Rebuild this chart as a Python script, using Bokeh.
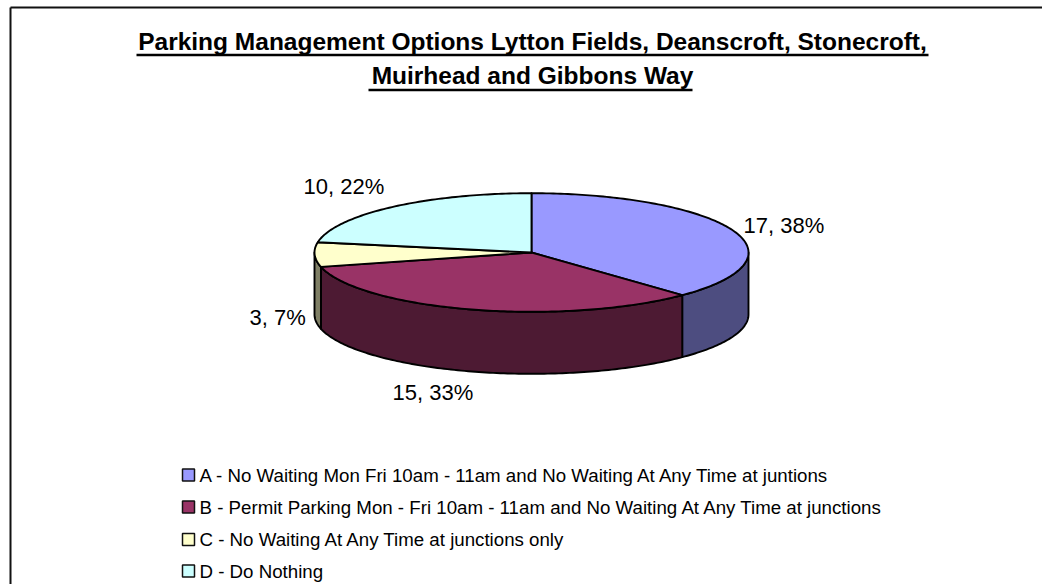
import numpy as np
from bokeh.plotting import figure
from bokeh.models import Range1d
from bokeh.core.properties import value
from bokeh.embed import file_html
from bokeh.resources import INLINE

title_lines = ["Parking Management Options Lytton Fields, Deanscroft, Stonecroft,",
               "Muirhead and Gibbons Way"]
categories = ["A - No Waiting Mon Fri 10am - 11am and No Waiting At Any Time at juntions",
              "B - Permit Parking Mon - Fri 10am - 11am and No Waiting At Any Time at junctions",
              "C - No Waiting At Any Time at junctions only",
              "D - Do Nothing"]
values = [17, 15, 3, 10]
top_colors = ["#9999FF", "#993366", "#FFFFCC", "#CCFFFF"]
side_colors = ["#4D4D80", "#4D1A33", "#808066", "#668080"]

# layout, in page pixels
CX, CY, RX, RY, DEPTH = 531.0, 252.0, 217.0, 59.3, 62.0
label_pos = [(743, 225), (392, 392), (249, 317), (303, 186)]
legend_y = [474.5, 506.5, 539, 570.5]
FONT = value("Liberation Sans")

p = figure(width=1042, height=584, output_backend="svg", toolbar_location=None,
           x_range=Range1d(0, 1042), y_range=Range1d(584, 0),
           min_border=0, x_axis_type=None, y_axis_type=None,
           background_fill_color="white", border_fill_color="white")
p.outline_line_color = None
p.grid.visible = False

# frame
p.segment([10, 10], [7, 7], [1042, 10], [7, 584], line_color="#111111", line_width=2)

# title
title_y = [41, 75]
under_y = [54.5, 89.5]
for line, b, u, (x0, x1) in zip(title_lines, title_y, under_y, [(136, 928), (368, 692)]):
    p.text([532], [b], text=[line], text_font=FONT, text_font_style="bold",
           text_font_size="24.5px", text_align="center", text_baseline="alphabetic", text_color="black")
    p.segment([x0], [u], [x1], [u], line_color="black", line_width=2.4)

# pie
total = sum(values)
edges = np.concatenate([[0], np.cumsum(values)]) / total * 2 * np.pi

def rim(a0, a1, dy=0.0):
    t = np.linspace(a0, a1, max(2, int(abs(a1 - a0) * 60)))
    return CX + RX * np.sin(t), CY + RY * -np.cos(t) + dy

for i in range(len(values)):
    a0, a1 = max(edges[i], np.pi / 2), min(edges[i + 1], 3 * np.pi / 2)
    if a1 > a0:
        xs, ys = rim(a0, a1)
        xb, yb = rim(a0, a1, DEPTH)
        p.patch(np.r_[xs, xb[::-1]], np.r_[ys, yb[::-1]], fill_color=side_colors[i],
                line_color="black", line_width=1.9, line_join="round")
for i in range(len(values)):
    xs, ys = rim(edges[i], edges[i + 1])
    p.patch(np.r_[CX, xs], np.r_[CY, ys], fill_color=top_colors[i],
            line_color="black", line_width=1.9, line_join="round")

# data labels
for v, (x, y) in zip(values, label_pos):
    p.text([x], [y], text=[f"{v}, {round(v / total * 100)}%"], text_font=FONT, text_font_size="22px",
           text_align="left", text_baseline="alphabetic", text_color="black")

# legend
for name, col, y in zip(categories, top_colors, legend_y):
    p.scatter([188], [y], marker="square", size=12, fill_color=col, line_color="#111111", line_width=1.5)
    p.text([199], [y], text=[name], text_font=FONT, text_font_size="18.7px",
           text_align="left", text_baseline="alphabetic", text_color="black")

open("out.html", "w").write(file_html(p, INLINE))
